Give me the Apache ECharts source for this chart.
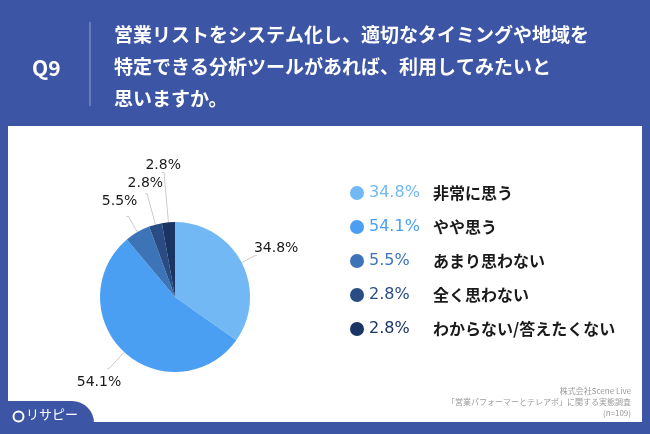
<!DOCTYPE html>
<html>
<head>
<meta charset="utf-8">
<script src="https://cdn.jsdelivr.net/npm/echarts@6/dist/echarts.min.js"></script>
<style>
  html, body { margin: 0; padding: 0; }
  #chart { width: 650px; height: 434px; }
</style>
</head>
<body>
<div id="chart"></div>
<script>
// 回答の選択肢と割合
const answerNames = ['非常に思う', 'やや思う', 'あまり思わない', '全く思わない', 'わからない/答えたくない']
const answerValues = [34.8, 54.1, 5.5, 2.8, 2.8]
const sliceColors = ['#72b8f4', '#4b9ff3', '#3d74b8', '#284c83', '#1a3463']

const titleLines = [
  '営業リストをシステム化し、適切なタイミングや地域を',
  '特定できる分析ツールがあれば、利用してみたいと',
  '思いますか。'
]
const sourceLines = [
  '株式会社Scene Live',
  '「営業パフォーマーとテレアポ」に関する実態調査',
  '(n=109)'
]

const jpFont = '"Noto Sans CJK JP", "Noto Sans", sans-serif'
const numFont = '"DejaVu Sans", "Noto Sans CJK JP", sans-serif'
const blue = '#3c56a5'

// 小さいスライスはラベル線を長めにする
const lineLengths = [15, 22, 18, 32, 50]
// ラベルのずらし量（線は自動で引き直される）
const labelShift = [[-5, -7], [16, 14], [13, -15], [20, -10], [21, -7]]

let chartDom = document.getElementById('chart')
let myChart = echarts.init(chartDom)

// 凡例の割合の色をスライスに合わせる
let legendRich = {
  n: { color: '#1a1a1a', fontSize: 16, fontWeight: 'bold', fontFamily: jpFont, lineHeight: 20, verticalAlign: 'middle' }
}
sliceColors.forEach((c, i) => {
  legendRich['p' + i] = { color: c, fontSize: 16, width: 64, fontFamily: numFont, lineHeight: 20, verticalAlign: 'middle' }
})

let graphics = [
  // 白いパネル
  { type: 'rect', left: 8, top: 126, shape: { width: 634, height: 296 }, style: { fill: '#ffffff' }, z: 0 },
  // 左下のロゴタブ
  { type: 'rect', left: 0, top: 401, shape: { width: 94, height: 33, r: [0, 22, 0, 0] }, style: { fill: blue }, z: 1 },
  { type: 'circle', left: 11, top: 409, shape: { r: 5 }, style: { fill: 'none', stroke: '#ffffff', lineWidth: 2 }, z: 2 },
  { type: 'text', left: 26, top: 408, style: { text: 'リサピー', fill: '#ffffff', font: '13px ' + jpFont }, z: 2 },
  // Q9 と区切り線
  { type: 'text', left: 32, top: 58, style: { text: 'Q9', fill: '#ffffff', font: 'bold 21px ' + jpFont } },
  { type: 'line', shape: { x1: 90, y1: 22, x2: 90, y2: 106 }, style: { stroke: 'rgba(255,255,255,0.45)', lineWidth: 1 } }
]
titleLines.forEach((t, i) => {
  graphics.push({ type: 'text', left: 114, top: 25 + i * 32, style: { text: t, fill: '#ffffff', font: 'bold 19px ' + jpFont } })
})
sourceLines.forEach((t, i) => {
  graphics.push({ type: 'text', right: 19, top: 387 + i * 11, style: { text: t, fill: '#9a9a9a', font: '8px ' + jpFont, align: 'right' } })
})

const option = {
  backgroundColor: blue,
  animation: false,
  color: sliceColors,
  graphic: graphics,
  legend: {
    orient: 'vertical',
    left: 345,
    top: 178,
    icon: 'circle',
    itemWidth: 14,
    itemHeight: 14,
    itemGap: 14,
    textStyle: { rich: legendRich, lineHeight: 20 },
    formatter: function (name) {
      let i = answerNames.indexOf(name)
      return '{p' + i + '|' + answerValues[i].toFixed(1) + '%}{n|' + name + '}'
    }
  },
  series: [
    {
      type: 'pie',
      center: [175, 297],
      radius: 75,
      startAngle: 90,
      clockwise: true,
      avoidLabelOverlap: false,
      z: 3,
      label: {
        show: true,
        position: 'outside',
        formatter: function (p) { return p.value.toFixed(1) + '%' },
        color: '#1a1a1a',
        fontSize: 14,
        fontFamily: numFont,
        distanceToLabelLine: 2
      },
      labelLine: { show: true, length2: 2, lineStyle: { color: '#cccccc', width: 1 } },
      labelLayout: function (params) {
        let s = labelShift[params.dataIndex]
        return { dx: s[0], dy: s[1] }
      },
      itemStyle: { borderWidth: 0 },
      emphasis: { disabled: true },
      data: answerNames.map((n, i) => ({
        name: n,
        value: answerValues[i],
        labelLine: { length: lineLengths[i] }
      }))
    }
  ]
}

myChart.setOption(option)
</script>
</body>
</html>
